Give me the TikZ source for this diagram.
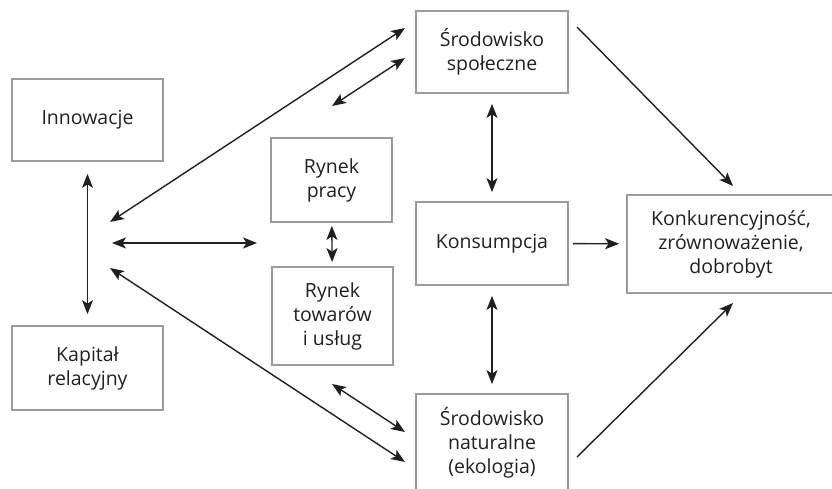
\documentclass[tikz,border=0pt]{standalone}
\usepackage{fontspec}
\setmainfont{Open Sans}
\usepackage{tikz}
\usetikzlibrary{arrows.meta}

\definecolor{boxgray}{RGB}{155,155,155}
\definecolor{inkblack}{RGB}{35,31,32}

\tikzset{
	box/.style={draw=boxgray,line width=1.8pt,align=center,text=inkblack,
		font=\fontsize{19.5}{24}\selectfont,inner sep=0pt},
	link/.style={draw=inkblack,line width=1.4pt,
		-{Stealth[length=14pt,width=11pt,inset=3.5pt]}},
	biglink/.style={link,{Stealth[length=14pt,width=11pt,inset=3.5pt]}-{Stealth[length=14pt,width=11pt,inset=3.5pt]}}
}

\begin{document}
\begin{tikzpicture}[x=1pt,y=-1pt]
		\clip (0,0) rectangle (832,489);

		% >>> boxes
		\node[box,minimum width=151,minimum height=82] (innov) at (87.5,120) {Innowacje};
		\node[box,minimum width=151,minimum height=84] (kapital) at (87.5,368) {Kapitał\\relacyjny};
		\node[box,minimum width=121,minimum height=84] (pracy) at (331.5,180) {Rynek\\pracy};
		\node[box,minimum width=121,minimum height=98] (towar) at (332.5,316) {Rynek\\towarów\\i usług};
		\node[box,minimum width=152,minimum height=82] (spol) at (492,52) {Środowisko\\społeczne};
		\node[box,minimum width=152,minimum height=83] (konsump) at (492,243.5) {Konsumpcja};
		\node[box,minimum width=152,minimum height=98] (natur) at (492,443) {Środowisko\\naturalne\\(ekologia)};
		\node[box,minimum width=208,minimum height=98] (konk) at (731,244) {Konkurencyjność,\\zrównoważenie,\\dobrobyt};
		% <<< boxes

		% >>> free ends
		\coordinate (hubup) at (110,222);
		\coordinate (hubmid) at (112,243);
		\coordinate (hubdown) at (110,268);
		\coordinate (rynmid) at (257,243);
		\coordinate (spolin) at (405,28);
		\coordinate (spolend) at (405,58);
		\coordinate (spolfree) at (332,106);
		\coordinate (naturin) at (405,462);
		\coordinate (naturend) at (405,432);
		\coordinate (naturfree) at (332,384);
		\coordinate (spolout) at (577,27);
		\coordinate (naturout) at (577,457);
		\coordinate (konkup) at (733,186);
		\coordinate (konkdown) at (733,303);
		% <<< free ends

		% >>> two-way links
		\draw[biglink,shorten <=12pt,shorten >=11pt] (innov) -- (kapital);
		\draw[biglink] (hubup) -- (spolin);
		\draw[biglink] (hubmid) -- (rynmid);
		\draw[biglink] (hubdown) -- (naturin);
		\draw[biglink] (spolfree) -- (spolend);
		\draw[biglink] (naturfree) -- (naturend);
		\draw[biglink,shorten <=3pt,shorten >=4pt] (pracy) -- (towar);
		\draw[biglink,shorten <=10pt,shorten >=9pt] (spol) -- (konsump);
		\draw[biglink,shorten <=10pt,shorten >=9pt] (konsump) -- (natur);
		% <<< two-way links

		% >>> one-way links
		\draw[link,shorten <=4pt,shorten >=7pt] (konsump) -- (konk);
		\draw[link] (spolout) -- (konkup);
		\draw[link] (naturout) -- (konkdown);
		% <<< one-way links
	\end{tikzpicture}
\end{document}
